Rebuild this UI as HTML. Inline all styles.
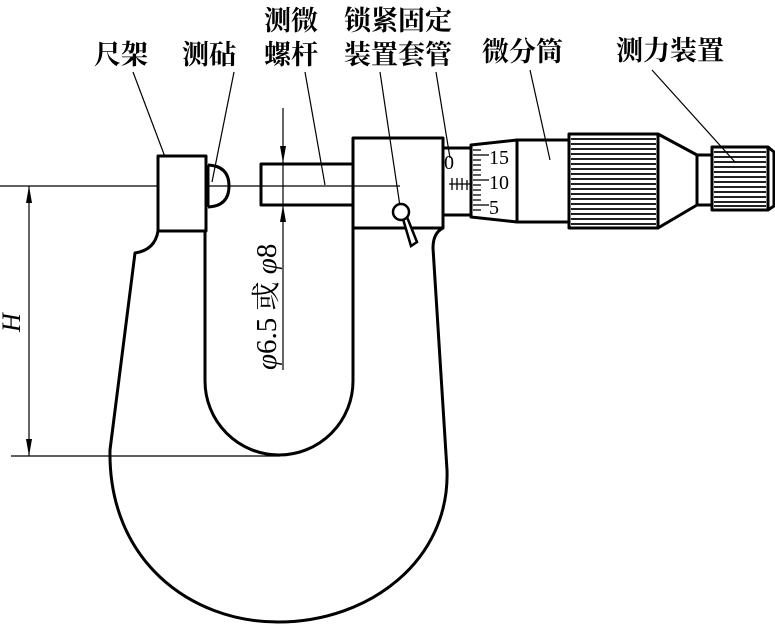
<!DOCTYPE html>
<html><head><meta charset="utf-8"><style>
html,body{margin:0;padding:0;background:#fff}
svg{display:block}
.t{font-family:"Liberation Serif","Noto Serif CJK SC","Noto Sans CJK SC",serif;font-size:27px;font-weight:bold;fill:#000}
.d{font-family:"Liberation Serif","Noto Serif CJK SC","Noto Sans CJK SC",serif;font-size:29px;font-weight:normal;fill:#000}
.n{font-family:"Liberation Serif",serif;font-size:20px;fill:#000}
</style></head><body>
<svg width="775" height="624" viewBox="0 0 775 624" xmlns="http://www.w3.org/2000/svg">
<g class="t">
<text x="94" y="64">尺架</text>
<text x="182" y="64">测砧</text>
<text x="264" y="30">测微</text>
<text x="264" y="64">螺杆</text>
<text x="344" y="30">锁紧固定</text>
<text x="344" y="64">装置套管</text>
<text x="482" y="61">微分筒</text>
<text x="616" y="60">测力装置</text>
</g>
<g stroke="#000" stroke-width="1.2" fill="none">
<line x1="133" y1="72" x2="176" y2="186"/>
<line x1="234" y1="72" x2="212" y2="182"/>
<line x1="305" y1="72" x2="325" y2="185"/>
<line x1="380" y1="72" x2="401" y2="213"/>
<line x1="436" y1="72" x2="450" y2="158"/>
<line x1="530" y1="70" x2="550" y2="160"/>
<line x1="652" y1="70" x2="735" y2="162"/>
<line x1="0" y1="186" x2="400" y2="186"/>
<line x1="29" y1="186" x2="29" y2="456"/>
<line x1="11" y1="456" x2="280" y2="456"/>
<line x1="283" y1="108" x2="283" y2="370"/>
</g>
<g fill="#000">
<polygon points="29,186 26,203 32,203"/>
<polygon points="29,456 26,439 32,439"/>
<polygon points="283,163 280,146 286,146"/>
<polygon points="283,205 280,222 286,222"/>
</g>
<text x="0" y="0" transform="translate(20,332) rotate(-90)" font-family="Liberation Serif" font-style="italic" font-size="26">H</text>
<text transform="translate(276,370) rotate(-90)" class="d"><tspan font-style="italic">φ</tspan>6.5 或 <tspan font-style="italic">φ</tspan>8</text>
<g stroke="#000" stroke-width="3" fill="none" stroke-linejoin="round">
<path d="M158,231 Q155,250 135,253 L110,450 C108,560 190,622 278,622 C370,622 450,560 447,470 L433,248 Q433,233 443,228"/>
<path d="M205,231 L205,381 A74,74 0 0 0 353,381 L353,228"/>
<rect x="158" y="156" width="48" height="75" fill="#fff"/>
<path d="M208,165 Q229,166 229,186 Q229,206 208,207" />
<line x1="208" y1="165" x2="208" y2="207"/>
<rect x="261" y="164" width="92" height="41"/>
<rect x="353" y="138" width="90" height="90"/>
<rect x="443" y="148" width="28" height="67"/>
<path d="M471,145 L517,140 L569,140 L569,222 L517,222 L471,217 Z"/>
<line x1="517" y1="140" x2="517" y2="222"/>
<rect x="569" y="134" width="89" height="94"/>
<path d="M658,134 L697,155 L697,205 L658,228"/>
<rect x="697" y="155" width="15" height="50"/>
<rect x="712" y="147" width="56" height="63"/>
<path d="M768,147 L774,152 L774,206 L768,210"/>
</g>
<g stroke="#000" stroke-width="1.8">
<line x1="571" y1="139" x2="656" y2="139"/><line x1="571" y1="144" x2="656" y2="144"/><line x1="571" y1="149" x2="656" y2="149"/><line x1="571" y1="154" x2="656" y2="154"/><line x1="571" y1="159" x2="656" y2="159"/><line x1="571" y1="164" x2="656" y2="164"/><line x1="571" y1="169" x2="656" y2="169"/><line x1="571" y1="174" x2="656" y2="174"/><line x1="571" y1="179" x2="656" y2="179"/><line x1="571" y1="184" x2="656" y2="184"/><line x1="571" y1="189" x2="656" y2="189"/><line x1="571" y1="194" x2="656" y2="194"/><line x1="571" y1="199" x2="656" y2="199"/><line x1="571" y1="204" x2="656" y2="204"/><line x1="571" y1="209" x2="656" y2="209"/><line x1="571" y1="214" x2="656" y2="214"/><line x1="571" y1="219" x2="656" y2="219"/><line x1="571" y1="224" x2="656" y2="224"/>
<line x1="714" y1="152" x2="766" y2="152"/><line x1="714" y1="157" x2="766" y2="157"/><line x1="714" y1="162" x2="766" y2="162"/><line x1="714" y1="167" x2="766" y2="167"/><line x1="714" y1="172" x2="766" y2="172"/><line x1="714" y1="177" x2="766" y2="177"/><line x1="714" y1="182" x2="766" y2="182"/><line x1="714" y1="187" x2="766" y2="187"/><line x1="714" y1="192" x2="766" y2="192"/><line x1="714" y1="197" x2="766" y2="197"/><line x1="714" y1="202" x2="766" y2="202"/><line x1="714" y1="206" x2="766" y2="206"/>
</g>
<g stroke="#000" stroke-width="1.3">
<line x1="449" y1="184" x2="471" y2="184"/>
<line x1="452" y1="178" x2="452" y2="190"/><line x1="457" y1="178" x2="457" y2="190"/><line x1="462" y1="178" x2="462" y2="190"/><line x1="467" y1="180" x2="467" y2="190"/>
<line x1="473" y1="150" x2="481" y2="150"/><line x1="473" y1="155" x2="489" y2="155"/><line x1="473" y1="160" x2="481" y2="160"/><line x1="473" y1="165" x2="481" y2="165"/><line x1="473" y1="170" x2="481" y2="170"/><line x1="473" y1="175" x2="481" y2="175"/><line x1="473" y1="180" x2="489" y2="180"/><line x1="473" y1="185" x2="481" y2="185"/><line x1="473" y1="190" x2="481" y2="190"/><line x1="473" y1="195" x2="481" y2="195"/><line x1="473" y1="200" x2="481" y2="200"/><line x1="473" y1="205" x2="489" y2="205"/><line x1="473" y1="210" x2="481" y2="210"/>
</g>
<g class="n">
<text x="444" y="169">0</text>
<text x="489" y="164">15</text>
<text x="489" y="189">10</text>
<text x="489" y="214">5</text>
</g>
<g stroke="#000" stroke-width="2.5" fill="#fff">
<path d="M403,219 L411,246 L417,242 L407,217 Z"/>
<circle cx="401" cy="212" r="8"/>
</g>
</svg>
</body></html>
